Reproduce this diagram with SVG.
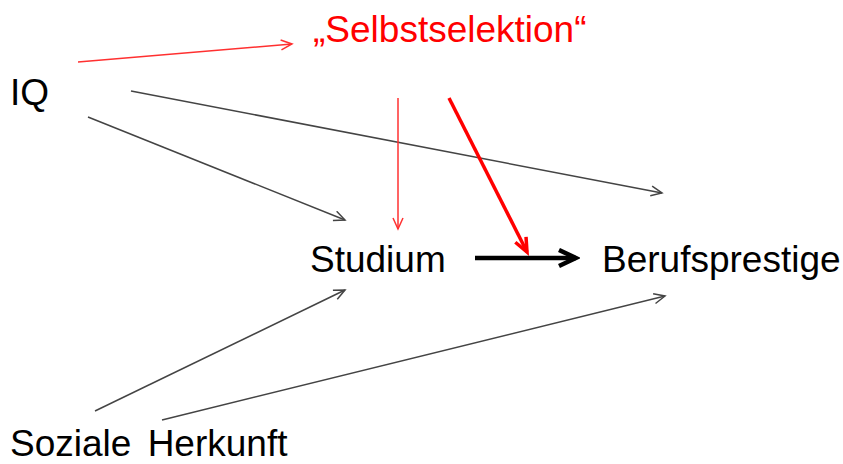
<svg xmlns="http://www.w3.org/2000/svg" width="843" height="464" viewBox="0 0 843 464">
<style>
text{font-family:"Liberation Sans",Arial,sans-serif;font-size:37px;fill:#000}
.red{fill:#ff0000}
.thin{stroke:#444;stroke-width:1.5;fill:none}
.rthin{stroke:#ff3030;stroke-width:1.5;fill:none}
</style>
<defs>
<marker id="ah" markerWidth="14" markerHeight="14" refX="12" refY="6" orient="auto" markerUnits="userSpaceOnUse"><path d="M1,1 L12,6 L1,11" fill="none" stroke="#444" stroke-width="1.5"/></marker>
<marker id="ahr" markerWidth="14" markerHeight="14" refX="12" refY="6" orient="auto" markerUnits="userSpaceOnUse"><path d="M1,1 L12,6 L1,11" fill="none" stroke="#ff3030" stroke-width="1.5"/></marker>
<marker id="ahrb" markerWidth="20" markerHeight="20" refX="16" refY="8" orient="auto" markerUnits="userSpaceOnUse"><path d="M2,2 L16,8 L2,14" fill="none" stroke="#ff0000" stroke-width="3.5"/></marker>
<marker id="ahb" markerWidth="24" markerHeight="24" refX="20" refY="10" orient="auto" markerUnits="userSpaceOnUse"><path d="M3,2 L20,10 L3,18" fill="none" stroke="#000" stroke-width="4.5"/></marker>
</defs>
<g id="connectors">
<line class="rthin" x1="78" y1="62" x2="292" y2="44" marker-end="url(#ahr)"/>
<line class="thin" x1="131" y1="91" x2="662" y2="193" marker-end="url(#ah)"/>
<line class="thin" x1="88" y1="117" x2="345" y2="220" marker-end="url(#ah)"/>
<line class="rthin" x1="398" y1="98" x2="398" y2="229" marker-end="url(#ahr)"/>
<line x1="449" y1="98" x2="527" y2="252" stroke="#ff0000" stroke-width="3.5" marker-end="url(#ahrb)"/>
<line x1="475" y1="258" x2="576" y2="258" stroke="#000" stroke-width="4.5" marker-end="url(#ahb)"/>
<line class="thin" x1="95" y1="411" x2="345" y2="290" marker-end="url(#ah)"/>
<line class="thin" x1="162" y1="420" x2="665" y2="296" marker-end="url(#ah)"/>
</g>
<g id="selbstselektion"><text class="red" x="313" y="42">„Selbstselektion“</text></g>
<g id="iq"><text x="10" y="105">IQ</text></g>
<g id="studium"><text x="310" y="272">Studium</text></g>
<g id="berufsprestige"><text x="602" y="272">Berufsprestige</text></g>
<g id="herkunft"><text x="10" y="456" word-spacing="6">Soziale Herkunft</text></g>
</svg>
